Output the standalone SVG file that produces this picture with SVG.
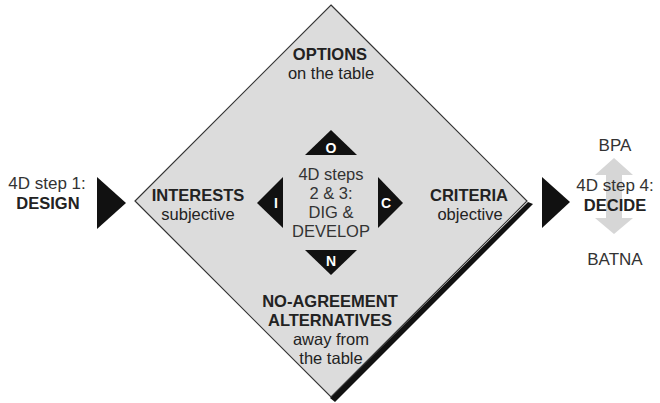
<svg xmlns="http://www.w3.org/2000/svg" width="660" height="403" viewBox="0 0 660 403">
<defs>
<style>
text{font-family:"Liberation Sans",Arial,sans-serif;fill:#222;text-anchor:middle}
.b{font-weight:bold;font-size:16.5px}
.r{font-size:16.5px}
.c{font-size:16.5px;fill:#333}
.s{font-size:17px;fill:#333}
.w{fill:#fff;font-weight:bold;font-size:14px}
.tri{fill:#111}
</style>
</defs>
<rect width="660" height="403" fill="#fff"/>
<g id="diamond">
<polygon points="528,202 533,204 335,402 330,398" fill="#111"/>
<polygon points="331,5 527,201 331,397 135,201" fill="#dcdcdc" stroke="#333" stroke-width="1.2"/>
</g>
<g id="connectors">
<polygon class="tri" points="97,177 97,229 126,203"/>
<polygon class="tri" points="542,177 542,228 570,202"/>
<polygon id="bpa-batna" points="614,158 633,175 622,175 622,218 633,218 614,234 595,218 606,218 606,175 595,175" fill="#d6d6d6"/>
</g>
<g id="options">
<text class="b" x="330" y="60">OPTIONS</text>
<text class="r" x="331" y="79">on the table</text>
</g>
<g id="interests">
<text class="b" x="198" y="201">INTERESTS</text>
<text class="r" x="198" y="220">subjective</text>
</g>
<g id="criteria">
<text class="b" x="469" y="201">CRITERIA</text>
<text class="r" x="470" y="220">objective</text>
</g>
<g id="no-agreement">
<text class="b" x="330" y="307">NO-AGREEMENT</text>
<text class="b" x="330" y="326">ALTERNATIVES</text>
<text class="r" x="331" y="345">away from</text>
<text class="r" x="331" y="364">the table</text>
</g>
<g id="center">
<text class="c" x="331" y="180">4D steps</text>
<text class="c" x="331" y="199">2 &amp; 3:</text>
<text class="c" x="331" y="218">DIG &amp;</text>
<text class="c" x="331" y="237">DEVELOP</text>
</g>
<g id="o">
<polygon class="tri" points="305,155 357,155 331,130"/>
<text class="w" x="331" y="153">O</text>
</g>
<g id="n">
<polygon class="tri" points="305,250 357,250 331,275"/>
<text class="w" x="331" y="266">N</text>
</g>
<g id="i">
<polygon class="tri" points="283,177 283,228 257,203"/>
<text class="w" x="276" y="208">I</text>
</g>
<g id="c">
<polygon class="tri" points="378,177 378,228 403,203"/>
<text class="w" x="386" y="208">C</text>
</g>
<g id="design">
<text class="s" x="47" y="189">4D step 1:</text>
<text class="b" x="48" y="209">DESIGN</text>
</g>
<g id="decide">
<text class="s" x="615" y="151">BPA</text>
<text class="s" x="615" y="191">4D step 4:</text>
<text class="b" x="615" y="211">DECIDE</text>
<text class="s" x="615" y="265">BATNA</text>
</g>
</svg>
